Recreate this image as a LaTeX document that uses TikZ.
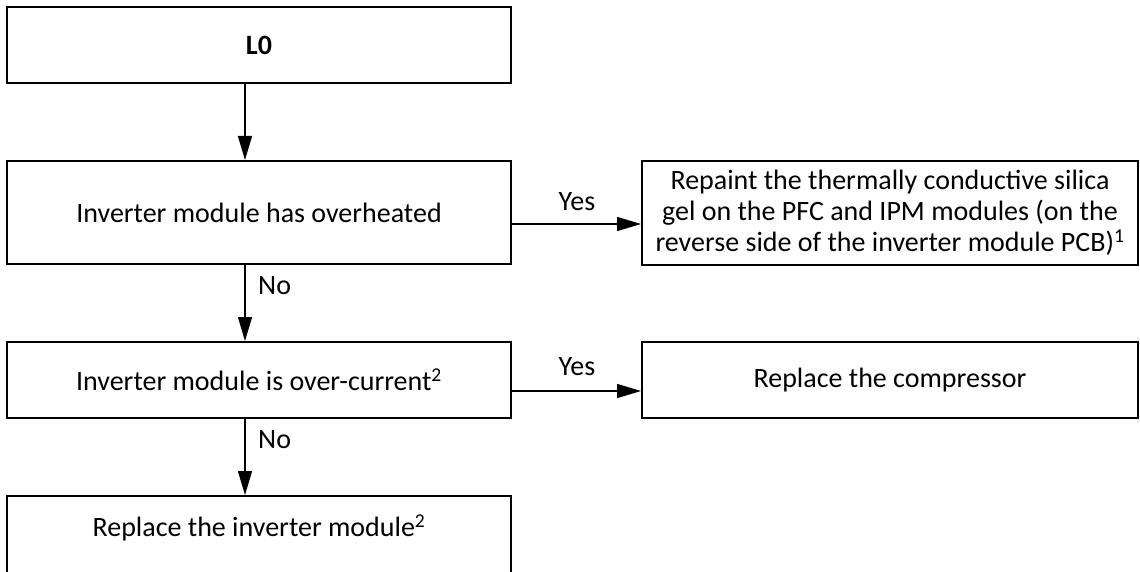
\documentclass[tikz,border=0pt]{standalone}
\usepackage{fontspec}
\setmainfont{Carlito}
\usetikzlibrary{arrows.meta}
\begin{document}
\begin{tikzpicture}[x=1pt,y=-1pt,
  box/.style={draw=black,line width=2pt,inner sep=0pt,align=center,font=\fontsize{28}{31}\selectfont},
  arr/.style={line width=1.3pt,-{Triangle[length=24pt,width=14pt]}},
  lbl/.style={inner sep=0pt,font=\fontsize{28}{31}\selectfont}]
\useasboundingbox (0,0) rectangle (1140,572);
\clip (0,0) rectangle (1140,572);
\node[box,minimum width=504pt,minimum height=76pt] (l0) at (259,45) {\textbf{L0}};
\node[box,minimum width=504pt,minimum height=103pt] (ov) at (259,212.5) {Inverter module has overheated};
\node[box,minimum width=496pt,minimum height=104pt] (rp) at (890,213) {Repaint the thermally conductive silica\\gel on the PFC and IPM modules (on the\\reverse side of the inverter module PCB)\textsuperscript{1}};
\node[box,minimum width=504pt,minimum height=76pt] (oc) at (259,380) {Inverter module is over-current\textsuperscript{2}};
\node[box,minimum width=496pt,minimum height=76pt] (cp) at (890,380) {Replace the compressor};
\node[box,minimum width=504pt,minimum height=90pt] (rim) at (259,541) {};
\node[lbl] (rimtext) at (259,528) {Replace the inverter module\textsuperscript{2}};
\coordinate (ax) at (245,0);
\coordinate (y1) at (0,224);
\coordinate (y2) at (0,391);
\draw[arr] (l0.south -| ax) -- (ov.north -| ax);
\draw[arr] (ov.south -| ax) -- (oc.north -| ax);
\draw[arr] (oc.south -| ax) -- (rim.north -| ax);
\draw[arr] (ov.east |- y1) -- (rp.west |- y1);
\draw[arr] (oc.east |- y2) -- (cp.west |- y2);
\node[lbl,anchor=west] (no1) at (258,286) {No};
\node[lbl,anchor=west] (no2) at (258,440) {No};
\node[lbl] (yes1) at (577,202) {Yes};
\node[lbl] (yes2) at (577,367) {Yes};
\end{tikzpicture}
\end{document}
